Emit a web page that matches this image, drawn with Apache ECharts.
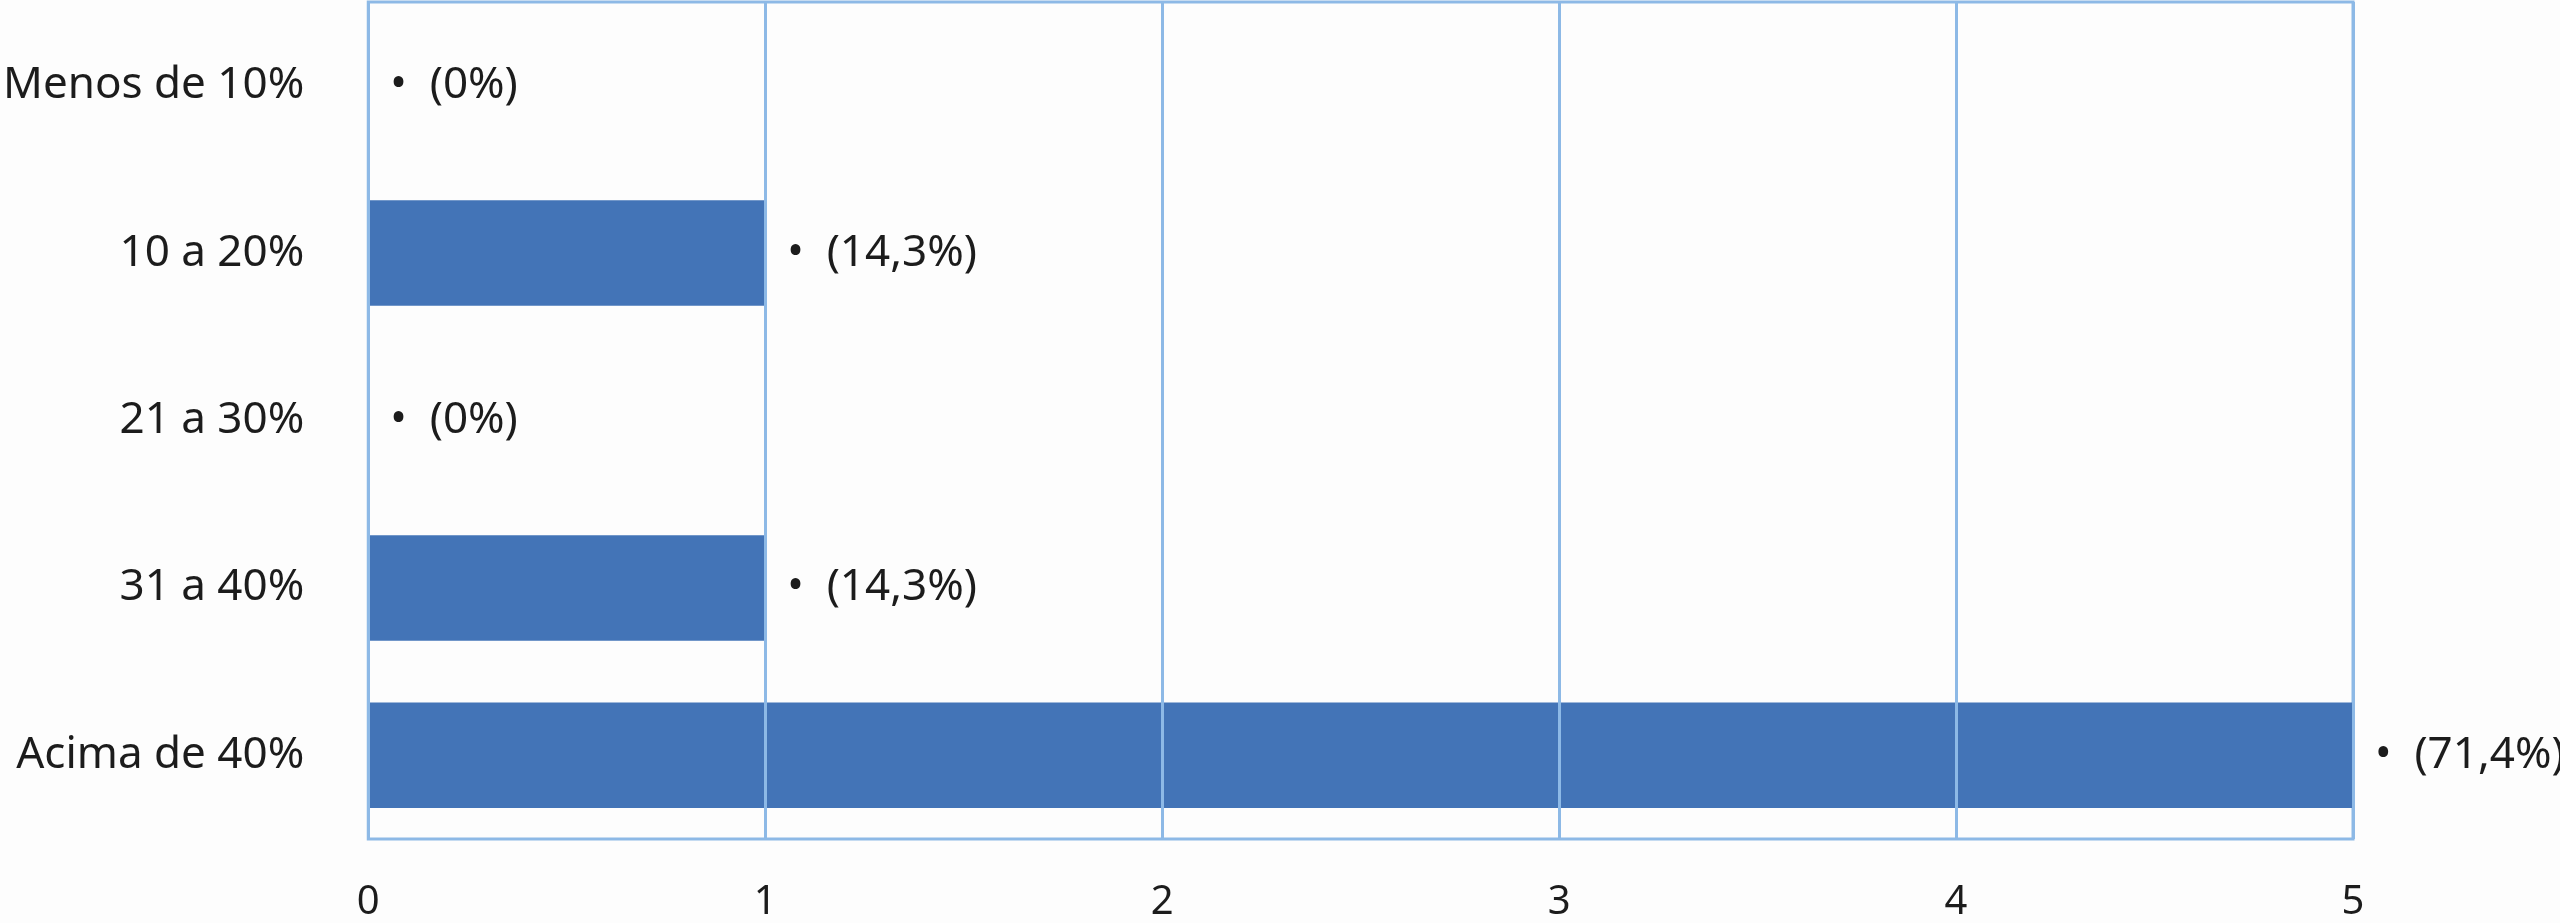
<!DOCTYPE html>
<html>
<head>
<meta charset="utf-8">
<script src="https://cdn.jsdelivr.net/npm/echarts@6/dist/echarts.min.js"></script>
<style>
  html, body { margin: 0; padding: 0; background: #fdfdfd; }
  #chart { width: 2560px; height: 923px; }
</style>
</head>
<body>
<div id="chart"></div>
<script>
    var categories = ['Menos de 10%', '10 a 20%', '21 a 30%', '31 a 40%', 'Acima de 40%'];
    var counts = [0, 1, 0, 1, 5];
    var percents = ['0%', '14,3%', '0%', '14,3%', '71,4%'];
    var xTicks = [0, 1, 2, 3, 4, 5];

    var lineColor = '#8db9e6';
    var textColor = '#1c1c1c';

    var option = {
        backgroundColor: '#fdfdfd',
        textStyle: { fontFamily: 'Noto Sans' },
        grid: {
            left: 367, right: 207, top: 2, bottom: 68,
            show: true,
            borderColor: lineColor,
            borderWidth: 3,
            backgroundColor: 'transparent'
        },
        xAxis: {
            type: 'value',
            min: xTicks[0],
            max: xTicks[xTicks.length - 1],
            interval: 1,
            z: 5,
            axisLine: { show: false },
            axisTick: { show: false },
            splitLine: { show: true, lineStyle: { color: lineColor, width: 3 } },
            axisLabel: { color: textColor, fontSize: 40, margin: 44 }
        },
        yAxis: {
            type: 'category',
            inverse: true,
            data: categories,
            axisLine: { show: false },
            axisTick: { show: false },
            axisLabel: { color: textColor, fontSize: 44, margin: 64 }
        },
        series: [{
            type: 'bar',
            data: counts,
            barCategoryGap: '37%',
            itemStyle: { color: '#4374b7' },
            label: {
                show: true,
                position: 'right',
                distance: 22,
                color: textColor,
                fontSize: 44,
                formatter: function (p) { return '•  (' + percents[p.dataIndex] + ')'; }
            }
        }]
    };

    echarts.init(document.getElementById('chart')).setOption(option);
</script>
</body>
</html>
